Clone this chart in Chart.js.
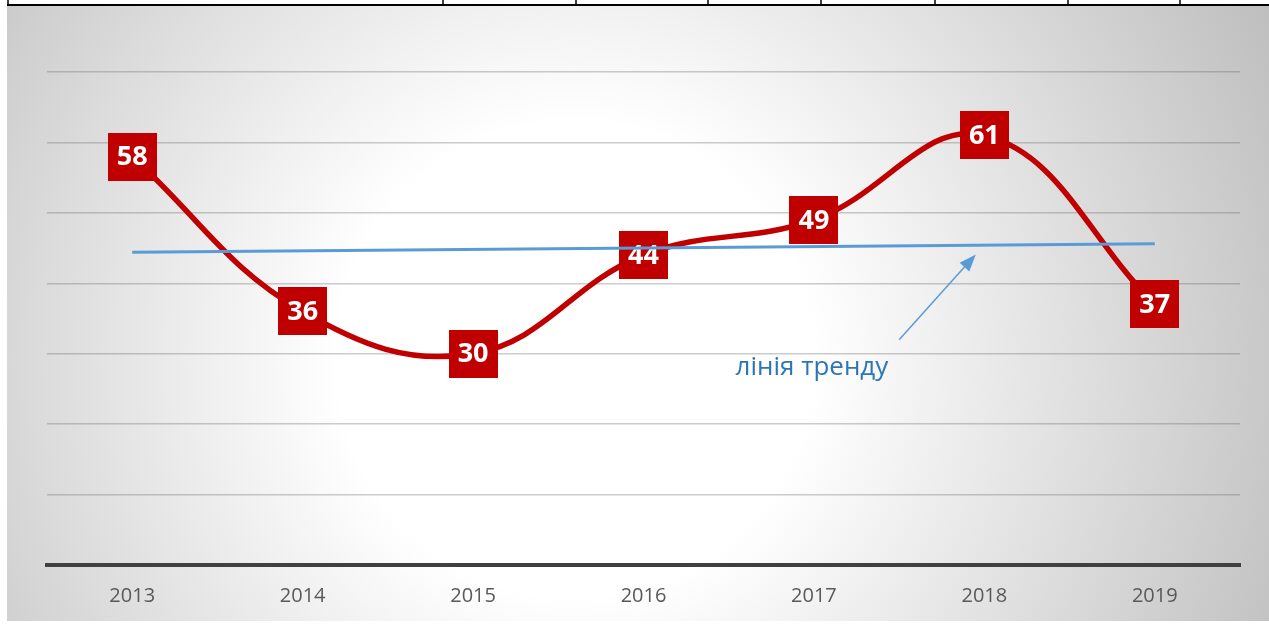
<!DOCTYPE html>
<html lang="uk">
<head>
  <meta charset="UTF-8" />
  <title>Динаміка по роках</title>
  <script src="https://cdn.jsdelivr.net/npm/chart.js"></script>
  <style>
    html, body {
      margin: 0;
      padding: 0;
      background: #ffffff;
      overflow: hidden;
    }
    #wrap {
      width: 1269px;
      height: 625px;
      position: relative;
    }
  </style>
</head>
<body>
  <div id="wrap">
    <canvas id="chart"></canvas>
  </div>

  <script>
    const years = ["2013", "2014", "2015", "2016", "2017", "2018", "2019"];
    const values = [58, 36, 30, 44, 49, 61, 37];
    // trend line ends (start and end only)
    const trendValues = [44.4, null, null, null, null, null, 45.6];
    const trendLabel = "лінія тренду";

    // frame ticks along the top edge (sheet cell borders)
    const topTicks = [8, 443, 576, 708, 821, 935, 1068, 1180];

    const backgroundPlugin = {
      id: "background",
      beforeDraw(chart) {
        const ctx = chart.ctx;
        const w = chart.width, h = chart.height;
        ctx.save();
        ctx.fillStyle = "#ffffff";
        ctx.fillRect(0, 0, w, h);
        const g = ctx.createRadialGradient(575, 360, 0, 575, 360, 790);
        g.addColorStop(0, "#ffffff");
        g.addColorStop(0.3, "#ffffff");
        g.addColorStop(1, "#bdbdbd");
        ctx.fillStyle = g;
        ctx.fillRect(7, 6, w - 7, 615);
        // top border + ticks
        ctx.strokeStyle = "#000000";
        ctx.lineWidth = 2;
        ctx.beginPath();
        ctx.moveTo(7, 5);
        ctx.lineTo(w, 5);
        ctx.stroke();
        ctx.lineWidth = 1.5;
        topTicks.forEach(x => {
          ctx.beginPath();
          ctx.moveTo(x, 0);
          ctx.lineTo(x, 5);
          ctx.stroke();
        });
        ctx.restore();
      }
    };

    const labelPlugin = {
      id: "valueBoxes",
      afterDatasetDraw(chart, args) {
        if (args.index !== 0) return;
        const ctx = chart.ctx;
        const meta = chart.getDatasetMeta(0);
        ctx.save();
        ctx.font = "bold 27px 'Open Sans', sans-serif";
        ctx.textAlign = "center";
        ctx.textBaseline = "middle";
        meta.data.forEach((p, i) => {
          ctx.fillStyle = "#c00000";
          ctx.fillRect(Math.round(p.x - 24.5), Math.round(p.y - 24), 49, 48);
          ctx.fillStyle = "#ffffff";
          ctx.fillText(String(values[i]), p.x, p.y + 1);
        });
        ctx.restore();
      }
    };

    const annotationPlugin = {
      id: "trendNote",
      afterDraw(chart) {
        const ctx = chart.ctx;
        const xs = chart.scales.x, ys = chart.scales.y;
        const x0 = xs.getPixelForValue(4.5), y0 = ys.getPixelForValue(32);
        const x1 = xs.getPixelForValue(4.95), y1 = ys.getPixelForValue(44.1);
        ctx.save();
        ctx.strokeStyle = "#5b9bd5";
        ctx.fillStyle = "#5b9bd5";
        ctx.lineWidth = 1.5;
        const ang = Math.atan2(y1 - y0, x1 - x0);
        const headLen = 17, headW = 6.5;
        const bx = x1 - headLen * Math.cos(ang), by = y1 - headLen * Math.sin(ang);
        ctx.beginPath();
        ctx.moveTo(x0, y0);
        ctx.lineTo(bx, by);
        ctx.stroke();
        ctx.beginPath();
        ctx.moveTo(x1, y1);
        ctx.lineTo(bx + headW * Math.sin(ang), by - headW * Math.cos(ang));
        ctx.lineTo(bx - headW * Math.sin(ang), by + headW * Math.cos(ang));
        ctx.closePath();
        ctx.fill();

        ctx.font = "26px 'Open Sans', sans-serif";
        ctx.fillStyle = "#2e75b6";
        ctx.textAlign = "left";
        ctx.textBaseline = "alphabetic";
        ctx.fillText(trendLabel, xs.getPixelForValue(3.54), ys.getPixelForValue(27));
        ctx.restore();
      }
    };

    new Chart(document.getElementById("chart"), {
      type: "line",
      data: {
        labels: years,
        datasets: [
          {
            data: values,
            borderColor: "#c00000",
            borderWidth: 5.5,
            tension: 0.4,
            pointRadius: 0,
            order: 2
          },
          {
            data: trendValues,
            borderColor: "#5b9bd5",
            borderWidth: 3,
            tension: 0,
            spanGaps: true,
            pointRadius: 0,
            order: 1
          }
        ]
      },
      options: {
        responsive: true,
        maintainAspectRatio: false,
        animation: false,
        layout: {
          padding: { left: 47, right: 29, top: 72, bottom: 0 }
        },
        plugins: {
          legend: { display: false },
          tooltip: { enabled: false }
        },
        scales: {
          x: {
            offset: true,
            grid: { display: false, drawTicks: false },
            border: { display: true, color: "#404040", width: 4 },
            ticks: {
              color: "#595959",
              font: { family: "'Open Sans', sans-serif", size: 20 },
              padding: 19
            },
            afterFit(scale) { scale.height = 60; }
          },
          y: {
            min: 0,
            max: 70,
            ticks: { display: false, stepSize: 10 },
            grid: { color: "rgba(100,100,100,0.33)", lineWidth: 1.5, drawTicks: false },
            border: { display: false },
            afterFit(scale) { scale.width = 0; }
          }
        }
      },
      plugins: [backgroundPlugin, labelPlugin, annotationPlugin]
    });
  </script>
</body>
</html>
